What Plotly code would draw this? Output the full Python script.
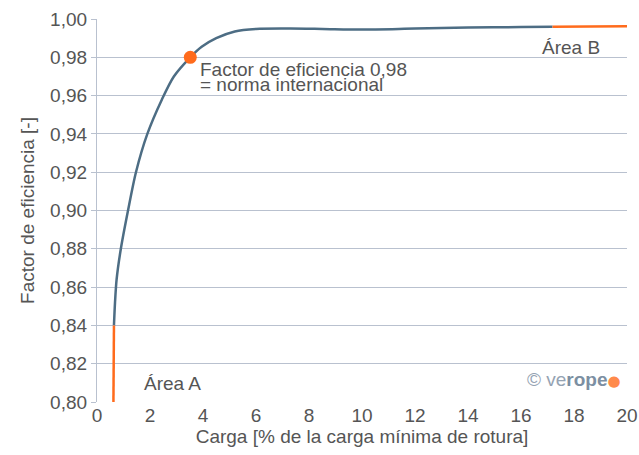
import plotly.graph_objects as go

# Data
a_x = [0.62, 0.64]
a_y = [0.800, 0.840]
curve_x = [0.64, 0.68, 0.74, 0.90, 1.17, 1.47, 1.90, 2.45, 2.90, 3.52, 3.95, 4.50, 5.20, 6.00, 7.30, 8.50, 10.0, 12.0, 14.0, 16.0, 17.19]
curve_y = [0.840, 0.852, 0.864, 0.880, 0.900, 0.920, 0.940, 0.958, 0.970, 0.980, 0.9855, 0.990, 0.9935, 0.9948, 0.9950, 0.9948, 0.9945, 0.9950, 0.9955, 0.9958, 0.9960]
b_x = [17.19, 20.0]
b_y = [0.9960, 0.9962]
point_x = [3.52]
point_y = [0.980]
y_ticks = [0.80, 0.82, 0.84, 0.86, 0.88, 0.90, 0.92, 0.94, 0.96, 0.98, 1.00]
y_labels = ["0,80", "0,82", "0,84", "0,86", "0,88", "0,90", "0,92", "0,94", "0,96", "0,98", "1,00"]
x_ticks = [0, 2, 4, 6, 8, 10, 12, 14, 16, 18, 20]

BLUE = "#4d6d84"
ORANGE = "#ff6b1c"
GRID = "#b9c1cf"
TXT = "#555555"
FONT = "Liberation Sans"
FS = 19

fig = go.Figure()
fig.add_trace(go.Scatter(x=curve_x, y=curve_y, mode="lines",
                         line=dict(color=BLUE, width=2.5, shape="spline", smoothing=0.8),
                         hoverinfo="skip", showlegend=False))
fig.add_trace(go.Scatter(x=a_x, y=a_y, mode="lines", line=dict(color=ORANGE, width=2.5),
                         showlegend=False))
fig.add_trace(go.Scatter(x=b_x, y=b_y, mode="lines", line=dict(color=ORANGE, width=2.5),
                         showlegend=False))
fig.add_trace(go.Scatter(x=point_x, y=point_y, mode="markers",
                         marker=dict(color=ORANGE, size=13), showlegend=False))

fig.add_annotation(x=3.80, y=0.9738, xref="x", yref="y", xanchor="left", yanchor="middle",
                   text="Factor de eficiencia 0,98",
                   showarrow=False, align="left",
                   font=dict(family=FONT, size=FS, color=TXT))
fig.add_annotation(x=3.80, y=0.9656, xref="x", yref="y", xanchor="left", yanchor="middle",
                   text="= norma internacional",
                   showarrow=False, align="left",
                   font=dict(family=FONT, size=FS, color=TXT))
fig.add_annotation(x=1.69, y=0.8097, xref="x", yref="y", xanchor="left", yanchor="middle",
                   text="Área A", showarrow=False,
                   font=dict(family=FONT, size=FS, color=TXT))
fig.add_annotation(x=19.04, y=0.9850, xref="x", yref="y", xanchor="right", yanchor="middle",
                   text="Área B", showarrow=False,
                   font=dict(family=FONT, size=FS, color=TXT))
fig.add_annotation(x=19.85, y=0.8115, xref="x", yref="y", xanchor="right", yanchor="middle",
                   text="<span style='color:#95a3b3'>© ve</span><b>rope</b><span style='color:#ff8a4c;font-family:DejaVu Sans;font-size:15px'>●</span>",
                   showarrow=False,
                   font=dict(family=FONT, size=19, color="#7c8fa2"))

fig.update_layout(
    width=639, height=455,
    margin=dict(l=97, r=12, t=19, b=53),
    paper_bgcolor="white", plot_bgcolor="white",
    font=dict(family=FONT, size=FS, color=TXT),
    xaxis=dict(range=[0, 20], tickvals=x_ticks, ticktext=[str(v) for v in x_ticks],
               showgrid=False, zeroline=False, showline=False, ticks="",
               automargin=False, tickfont=dict(size=FS), ticklabeloverflow="allow",
               title=dict(text="Carga [% de la carga mínima de rotura]", standoff=2,
                          font=dict(size=FS, color=TXT))),
    yaxis=dict(range=[0.80, 1.00], tickvals=y_ticks, ticktext=y_labels,
               showgrid=True, gridcolor=GRID, gridwidth=1.3, zeroline=False,
               showline=True, linecolor=GRID, linewidth=1.3,
               ticks="outside", ticklen=5, tickcolor=GRID,
               automargin=False, tickfont=dict(size=FS),
               title=dict(text="Factor de eficiencia [-]", standoff=10,
                          font=dict(size=FS, color=TXT))),
)

fig.write_html("out.html", config={"displayModeBar": False},
               post_script="document.body.style.margin='0px';document.body.style.overflow='hidden';")
